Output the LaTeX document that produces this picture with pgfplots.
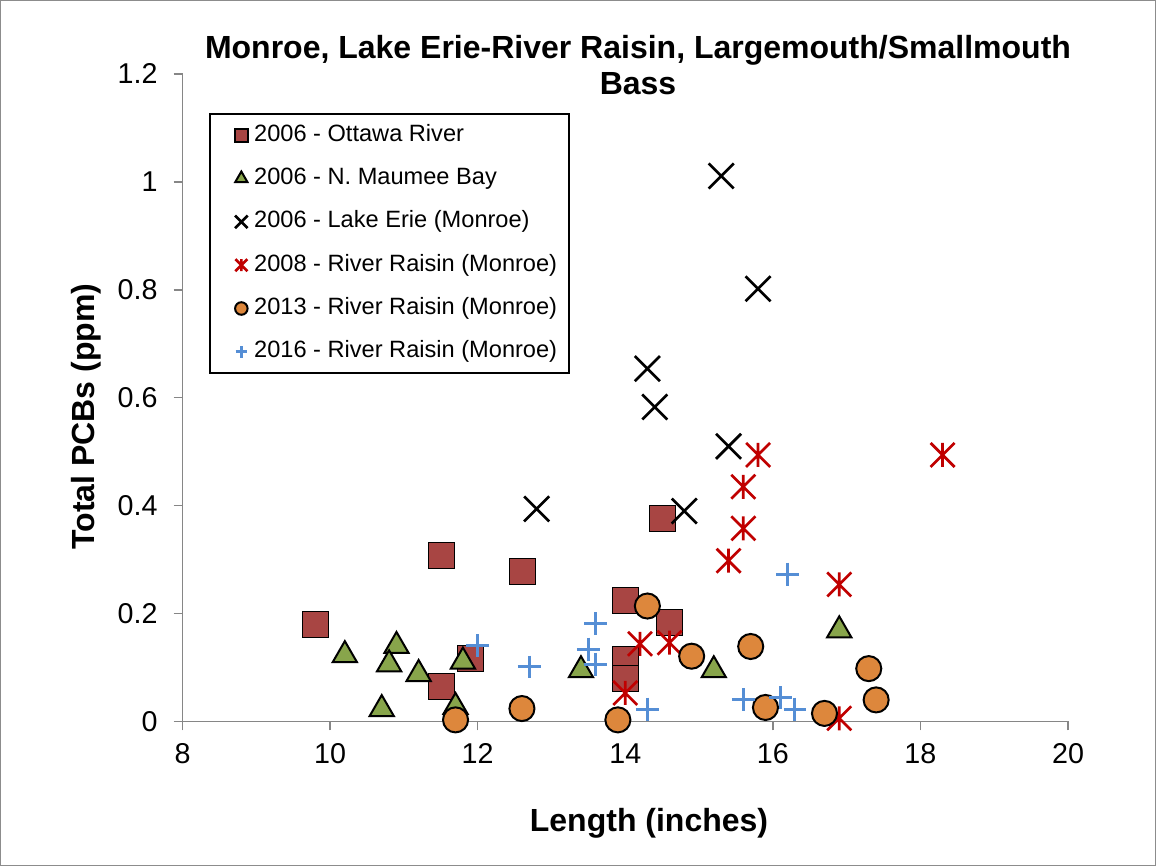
\documentclass[border=0pt]{standalone}
\usepackage{pgfplots}
\pgfplotsset{compat=1.18}
\usepackage{fontspec}
\setmainfont{Liberation Sans}
\definecolor{sqc}{RGB}{168,69,67}
\definecolor{tric}{RGB}{136,165,75}
\definecolor{astc}{RGB}{192,0,0}
\definecolor{circc}{RGB}{221,135,60}
\definecolor{plusc}{RGB}{85,142,213}
\definecolor{axgray}{RGB}{134,134,134}
\definecolor{bordergray}{RGB}{140,140,140}
\pgfdeclareplotmark{myx}{%
  \pgfpathmoveto{\pgfqpoint{-\pgfplotmarksize}{-\pgfplotmarksize}}%
  \pgfpathlineto{\pgfqpoint{\pgfplotmarksize}{\pgfplotmarksize}}%
  \pgfpathmoveto{\pgfqpoint{-\pgfplotmarksize}{\pgfplotmarksize}}%
  \pgfpathlineto{\pgfqpoint{\pgfplotmarksize}{-\pgfplotmarksize}}%
  \pgfusepathqstroke}
\pgfdeclareplotmark{mystar}{%
  \pgfpathmoveto{\pgfqpoint{-\pgfplotmarksize}{-\pgfplotmarksize}}%
  \pgfpathlineto{\pgfqpoint{\pgfplotmarksize}{\pgfplotmarksize}}%
  \pgfpathmoveto{\pgfqpoint{-\pgfplotmarksize}{\pgfplotmarksize}}%
  \pgfpathlineto{\pgfqpoint{\pgfplotmarksize}{-\pgfplotmarksize}}%
  \pgfpathmoveto{\pgfqpoint{0pt}{-\pgfplotmarksize}}%
  \pgfpathlineto{\pgfqpoint{0pt}{\pgfplotmarksize}}%
  \pgfusepathqstroke}
\begin{document}
\begin{tikzpicture}
\useasboundingbox (0,0) rectangle (867pt,649.5pt);
\draw[bordergray, line width=0.75pt] (0.375pt,0.375pt) rectangle (866.625pt,649.125pt);
\begin{axis}[
  at={(136.875pt,108.375pt)}, anchor=south west,
  scale only axis, width=664.125pt, height=485.625pt,
  xmin=8, xmax=20, ymin=0, ymax=1.2,
  axis x line*=bottom, axis y line*=left,
  axis line style={axgray, line width=1.1pt},
  tick align=outside, major tick length=6.75pt,
  tick style={axgray, line width=1.1pt},
  xtick={8,10,12,14,16,18,20}, xticklabels={8,10,12,14,16,18,20},
  ytick={0,0.2,0.4,0.6,0.8,1,1.2}, yticklabels={0,0.2,0.4,0.6,0.8,1,1.2},
  ticklabel style={font=\fontsize{21.5}{25}\selectfont},
  yticklabel style={xshift=-8.5pt},
  xticklabel style={yshift=-6.5pt},
  clip=false,
  legend cell align=left,
  legend style={at={(0.0299,0.9400)}, anchor=north west, draw=black, line width=1.5pt,
    inner xsep=9pt, inner ysep=7.75pt, row sep=16pt, column sep=2.5pt,
    nodes={inner sep=0pt, text height=12.75pt, text depth=3.75pt, font=\fontsize{17.7}{21}\selectfont}},
  legend image code/.code={%
    \path (-13.4pt,0pt) (6pt,0pt);
    \draw[#1, every mark/.append style={scale=0.5}] plot coordinates {(0pt,0pt)};
  },
]
\addplot[only marks, mark=square*, mark size=9.75pt, mark options={fill=sqc, draw=none}]
  coordinates {(9.8,0.181) (11.5,0.308) (12.6,0.279) (14.5,0.377) (14.0,0.225) (14.6,0.184) (11.9,0.118) (11.5,0.066) (14.0,0.115) (14.0,0.080)};
\addlegendentry{2006 - Ottawa River}
\addplot[only marks, mark=triangle*, mark size=10.5pt, line width=1.5pt, mark options={fill=tric, draw=black}]
  coordinates {(10.2,0.123) (10.9,0.140) (10.8,0.106) (11.2,0.088) (11.8,0.111) (10.7,0.023) (11.7,0.027) (13.4,0.095) (15.2,0.095) (16.9,0.169)};
\addlegendentry{2006 - N. Maumee Bay}
\addplot[only marks, mark=myx, mark size=9.4pt, line width=2pt, mark options={draw=black}]
  coordinates {(15.3,1.011) (15.8,0.802) (14.3,0.654) (14.4,0.583) (15.4,0.510) (14.8,0.390) (12.8,0.394)};
\addlegendentry{2006 - Lake Erie (Monroe)}
\addplot[only marks, mark=mystar, mark size=9pt, line width=2pt, mark options={draw=astc}]
  coordinates {(15.8,0.494) (15.6,0.435) (15.6,0.358) (15.4,0.298) (18.3,0.494) (16.9,0.254) (14.2,0.144) (14.6,0.146) (14.0,0.053) (16.9,0.006)};
\addlegendentry{2008 - River Raisin (Monroe)}
\addplot[only marks, mark=*, mark size=9.4pt, line width=1.5pt, mark options={fill=circc, draw=black}]
  coordinates {(14.3,0.214) (12.6,0.024) (11.7,0.003) (13.9,0.003) (14.9,0.121) (15.7,0.139) (15.9,0.026) (16.7,0.015) (17.3,0.098) (17.4,0.040)};
\addlegendentry{2013 - River Raisin (Monroe)}
\addplot[only marks, mark=+, mark size=8.6pt, line width=2.25pt, mark options={draw=plusc}]
  coordinates {(12.0,0.140) (12.7,0.101) (13.6,0.181) (13.5,0.134) (13.6,0.106) (14.3,0.023) (16.2,0.273) (15.6,0.040) (16.1,0.044) (16.3,0.023)};
\addlegendentry{2016 - River Raisin (Monroe)}
\end{axis}
\node[font=\bfseries\fontsize{24}{27}\selectfont, align=center] at (478.5pt,600.75pt) {Monroe, Lake Erie-River Raisin, Largemouth/Smallmouth\\Bass};
\node[font=\bfseries\fontsize{24}{28}\selectfont] at (486.75pt,32pt) {Length (inches)};
\node[font=\bfseries\fontsize{24}{28}\selectfont, rotate=90] at (65pt,337.125pt) {Total PCBs (ppm)};
\end{tikzpicture}
\end{document}
